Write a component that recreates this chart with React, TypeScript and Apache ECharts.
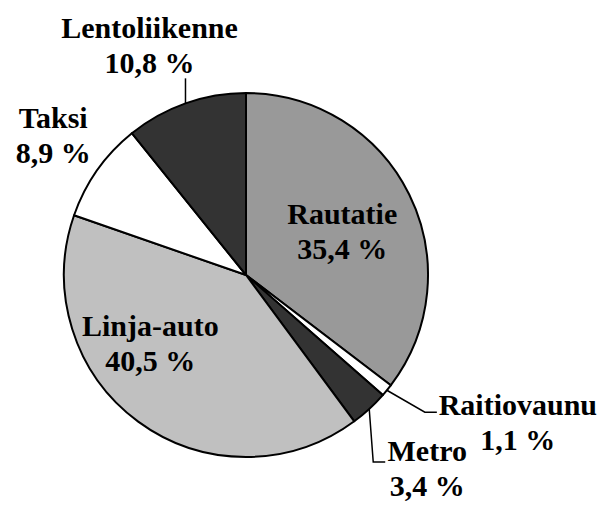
import React, { useEffect, useRef } from 'react';
import * as echarts from 'echarts';

const categories = ['Rautatie', 'Raitiovaunu', 'Metro', 'Linja-auto', 'Taksi', 'Lentoliikenne'];
const shares = [35.4, 1.1, 3.4, 40.5, 8.9, 10.8];
const colors = ['#999999', '#ffffff', '#333333', '#c0c0c0', '#ffffff', '#333333'];
const labelInside = [true, false, false, true, false, false];

// Label placement (offsets, not data)
const insideOffsets: Record<string, [number, number]> = {
  Rautatie: [12, -2],
  'Linja-auto': [-40, -8],
};
const leaderBends: Record<string, [number, number][]> = {
  Lentoliikenne: [[0, -25]],
  Raitiovaunu: [[38, 22], [50, 22]],
  Metro: [[4, 53], [16, 53]],
  Taksi: [],
};
const outsideLabelOffsets: Record<string, [number, number]> = {
  Lentoliikenne: [-36, -58],
  Taksi: [-44, -35],
  Raitiovaunu: [131, 32],
  Metro: [58, 59],
};

const fmt = (v: number) => v.toFixed(1).replace('.', ',') + ' %';

export default function App() {
  const ref = useRef<HTMLDivElement>(null);
  useEffect(() => {
    document.body.style.margin = '0';
    if (!ref.current) return;
    const chart = echarts.init(ref.current, undefined, { renderer: 'svg' });
    const data = categories.map((name, i) => ({
      name,
      value: shares[i],
      itemStyle: { color: colors[i] },
      label: { position: labelInside[i] ? 'inside' : 'outside' },
      labelLine: { show: !labelInside[i] },
    }));
    chart.setOption({
      animation: false,
      backgroundColor: '#ffffff',
      series: [
        {
          type: 'pie',
          center: [246, 275],
          radius: 182,
          startAngle: 90,
          clockwise: true,
          avoidLabelOverlap: false,
          data,
          itemStyle: { borderColor: '#000000', borderWidth: 2 },
          label: {
            formatter: (p: any) => `${p.name}\n${fmt(p.value)}`,
            fontFamily: 'Liberation Serif',
            fontWeight: 'bold',
            fontSize: 30,
            lineHeight: 35,
            color: '#000000',
            align: 'center',
          },
          labelLine: {
            lineStyle: { color: '#000000', width: 1.5 },
          },
          labelLayout: (params: any) => {
            const name = categories[params.dataIndex];
            if (labelInside[params.dataIndex]) {
              const off = insideOffsets[name] || [0, 0];
              return { dx: off[0], dy: off[1], align: 'center', verticalAlign: 'middle' };
            }
            const pts = params.labelLinePoints;
            if (!pts || !pts[0]) return {};
            const p0 = pts[0];
            const bends = leaderBends[name] || [];
            const linePts = [p0, ...bends.map((b) => [p0[0] + b[0], p0[1] + b[1]])];
            if (linePts.length < 2) linePts.push([p0[0], p0[1]]);
            const lo = outsideLabelOffsets[name] || [0, 0];
            return {
              x: p0[0] + lo[0],
              y: p0[1] + lo[1],
              align: 'center',
              verticalAlign: 'middle',
              labelLinePoints: linePts,
            };
          },
        },
      ],
    });
    return () => chart.dispose();
  }, []);
  return <div ref={ref} style={{ width: 604, height: 505 }} />;
}
